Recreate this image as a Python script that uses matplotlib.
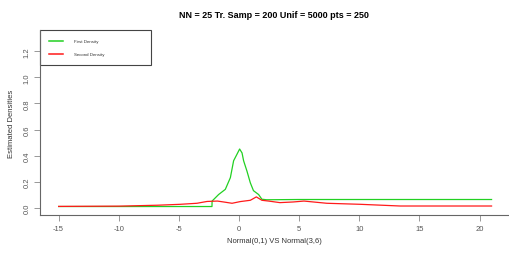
import matplotlib
matplotlib.use('Agg')
import matplotlib.pyplot as plt
from matplotlib.lines import Line2D
from matplotlib.patches import Rectangle

plt.rcParams['font.family'] = ['Liberation Sans', 'DejaVu Sans']

# First density (green)
first_x = [-15.0, -2.25, -2.24, -1.7, -1.14, -0.72, -0.45, -0.17, 0.05, 0.25, 0.38,
           0.66, 0.94, 1.2, 1.63, 1.9, 2.3, 5.0, 10.0, 15.0, 21.0]
first_y = [0.008, 0.008, 0.05, 0.10, 0.14, 0.23, 0.36, 0.41, 0.45, 0.42, 0.36,
           0.28, 0.19, 0.13, 0.10, 0.064, 0.06, 0.062, 0.062, 0.062, 0.062]

# Second density (red)
second_x = [-15.0, -10.0, -6.8, -4.9, -3.5, -2.66, -1.8, -1.28, -0.58, 0.1, 0.94,
            1.44, 1.9, 2.46, 3.4, 4.5, 5.4, 7.3, 10.1, 13.4, 21.0]
second_y = [0.009, 0.011, 0.018, 0.025, 0.033, 0.047, 0.05, 0.043, 0.033, 0.046, 0.056,
            0.082, 0.056, 0.05, 0.038, 0.043, 0.05, 0.033, 0.025, 0.012, 0.012]

x_ticks = [-15, -10, -5, 0, 5, 10, 15, 20]
y_ticks = [0.0, 0.2, 0.4, 0.6, 0.8, 1.0, 1.2]
legend_labels = ['First Density', 'Second Density']
title = 'NN = 25 Tr. Samp = 200 Unif = 5000 pts = 250'

green = '#22d022'
red = '#ff1a1a'
grey = '#555555'

fig = plt.figure(figsize=(5.09, 2.55), dpi=100)
ax = fig.add_axes([0.0786, 0.153, 0.9214, 0.725])

ax.plot(first_x, first_y, color=green, lw=0.9)
ax.plot(second_x, second_y, color=red, lw=0.9)

ax.set_xlim(-16.55, 22.45)
ax.set_ylim(-0.057, 1.364)

for s in ['top', 'right']:
    ax.spines[s].set_visible(False)
for s in ['left', 'bottom']:
    ax.spines[s].set_color('#666666')
    ax.spines[s].set_linewidth(0.8)

ax.set_xticks(x_ticks)
ax.set_xticklabels([str(v) for v in x_ticks])
ax.set_yticks(y_ticks)
ax.set_yticklabels(['%.1f' % v for v in y_ticks], rotation=90, va='center')
ax.tick_params(axis='both', direction='out', length=4, width=0.6,
               color='#888888', labelcolor=grey, labelsize=5.5, pad=3)

ax.set_xlabel('Normal(0,1) VS Normal(3,6)', fontsize=5.5, color='#333333', labelpad=4)
ax.set_ylabel('Estimated Densities', fontsize=5.5, color='#333333', labelpad=6)

fig.text(0.538, 0.941, title, ha='center', va='center', fontsize=6.5, fontweight='bold')

# legend box drawn like the R one
ax.add_patch(Rectangle((0, 0.811), 0.237, 0.189, transform=ax.transAxes,
                       fill=False, edgecolor='#444444', lw=0.8, clip_on=False))
for ly, col, lab in [(0.941, green, legend_labels[0]), (0.870, red, legend_labels[1])]:
    ax.add_line(Line2D([0.019, 0.049], [ly, ly], transform=ax.transAxes, color=col, lw=1.1))
    ax.text(0.0725, ly, lab, transform=ax.transAxes, fontsize=3.2, va='center', color='#333333')

fig.savefig('out.png', dpi=100)
